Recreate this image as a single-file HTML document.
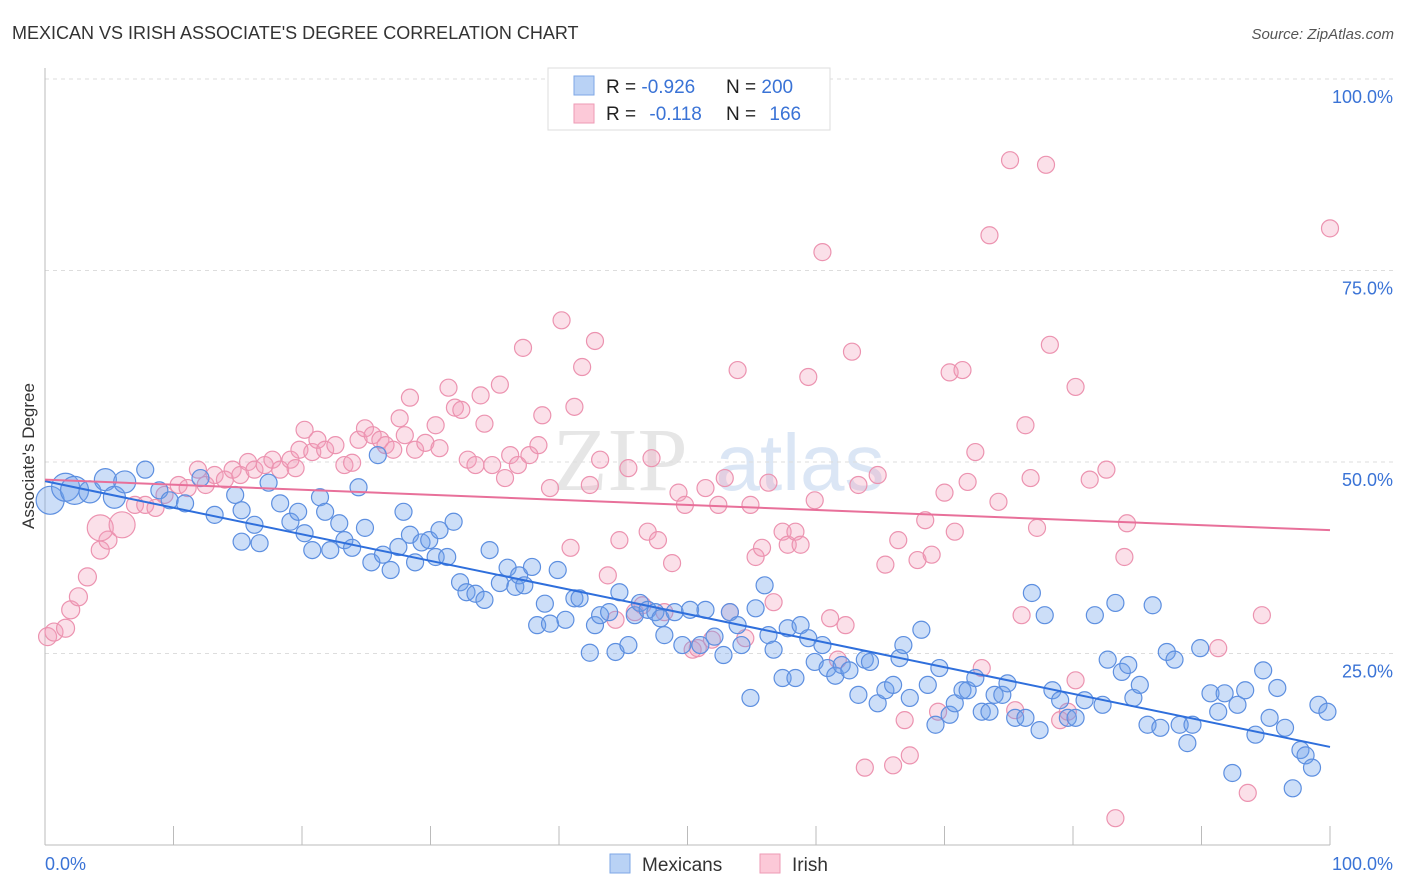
<!DOCTYPE html>
<html><head><meta charset="utf-8">
<style>
body{margin:0;background:#fff;font-family:"Liberation Sans",sans-serif;}
svg{display:block}
</style></head>
<body>
<svg id="chart" width="1406" height="892" xmlns="http://www.w3.org/2000/svg">
<text x="12" y="39" font-size="18" fill="#333">MEXICAN VS IRISH ASSOCIATE'S DEGREE CORRELATION CHART</text>
<text x="1394" y="39" font-size="15" fill="#555" font-style="italic" text-anchor="end">Source: ZipAtlas.com</text>
<text transform="translate(34,456) rotate(-90)" font-size="17" fill="#333" text-anchor="middle">Associate's Degree</text>
<text x="620" y="490" font-size="90" fill="#e6e6e6" font-family="Liberation Serif" text-anchor="middle">ZIP</text>
<text x="800" y="490" font-size="80" fill="#dbe6f5" text-anchor="middle">atlas</text>
<g id="grid"></g>
<g id="axes"></g>
<g id="pts"></g>
<g id="lines"></g>
<g>
<rect x="548" y="68" width="282" height="62" fill="#fff" stroke="#ddd"/>
<rect x="574" y="76" width="20" height="19" fill="#b9d2f5" stroke="#7ea7e6"/>
<rect x="574" y="104" width="20" height="19" fill="#fcc9d8" stroke="#ee9ab5"/>
<text x="606" y="93" font-size="19" fill="#222">R = <tspan fill="#3a73d6">-0.926</tspan></text>
<text x="726" y="93" font-size="19" fill="#222">N = <tspan fill="#3a73d6">200</tspan></text>
<text x="606" y="120" font-size="19" fill="#222">R = <tspan fill="#3a73d6" dx="8">-0.118</tspan></text>
<text x="726" y="120" font-size="19" fill="#222">N = <tspan fill="#3a73d6" dx="8">166</tspan></text>
</g>
<g>
<rect x="610" y="854" width="20" height="19" fill="#b9d2f5" stroke="#7ea7e6"/>
<text x="642" y="871" font-size="19" fill="#333">Mexicans</text>
<rect x="760" y="854" width="20" height="19" fill="#fcc9d8" stroke="#ee9ab5"/>
<text x="792" y="871" font-size="19" fill="#333">Irish</text>
</g>
</svg>
<script>
const blueX=[0.4,1.6,2.3,3.5,4.7,5.4,6.2,7.8,8.9,9.7,10.9,12.1,13.2,14.8,15.3,16.3,15.3,16.7,17.4,18.3,19.1,19.7,20.2,20.8,21.4,22.2,21.8,22.9,23.3,23.9,24.4,24.9,25.4,25.9,26.3,26.9,27.5,27.9,28.4,28.8,29.3,29.9,30.4,30.7,31.3,31.8,32.3,32.8,33.5,34.2,34.6,35.4,36.0,36.6,36.9,37.3,37.9,38.3,38.9,39.3,39.9,40.5,41.2,41.6,42.4,42.8,43.2,43.9,44.4,44.7,45.4,45.9,46.3,46.9,47.5,47.9,48.2,49.0,49.6,50.2,51.0,51.4,52.1,52.8,53.3,53.9,54.2,54.9,55.3,56.0,56.3,56.7,57.4,57.8,58.4,58.8,59.4,59.9,60.5,60.9,61.5,62.0,62.6,63.3,63.8,64.2,64.8,65.4,66.0,66.5,66.8,67.3,68.2,68.7,69.3,69.6,70.4,70.8,71.4,71.8,72.4,72.9,73.5,73.9,74.5,74.9,75.5,76.3,76.8,77.4,77.8,78.4,79.0,79.6,80.2,80.9,81.7,82.3,82.7,83.3,83.8,84.3,84.7,85.2,85.8,86.2,86.8,87.3,87.9,88.3,88.9,89.3,89.9,90.7,91.3,91.8,92.4,92.8,93.4,94.2,94.8,95.3,95.9,96.5,97.1,97.7,98.1,98.6,99.1,99.8];
const blueY=[45.0,46.7,46.3,46.1,47.7,45.4,47.4,49.0,46.3,45.0,44.6,47.9,43.1,45.7,43.7,41.8,39.6,39.4,47.3,44.6,42.2,43.5,40.7,38.5,45.4,38.5,43.5,42.0,39.8,38.8,46.7,41.4,36.9,50.9,37.9,35.9,38.9,43.5,40.5,36.9,39.5,39.8,37.6,41.1,37.6,42.2,34.3,33.0,32.8,32.0,38.5,34.2,36.2,33.7,35.2,33.9,36.3,28.7,31.5,28.9,35.9,29.4,32.2,32.2,25.1,28.7,30.0,30.4,25.2,33.0,26.1,30.0,31.6,30.7,30.4,29.6,27.4,30.4,26.1,30.7,26.1,30.7,27.2,24.8,30.4,28.7,26.1,19.2,30.9,33.9,27.4,25.5,21.8,28.3,21.8,28.7,27.0,23.9,26.1,23.1,22.1,23.5,22.8,19.6,24.2,23.9,18.5,20.2,20.9,24.4,26.1,19.2,28.1,20.9,15.7,23.1,17.0,18.5,20.2,20.2,21.8,17.4,17.4,19.6,19.6,21.1,16.6,16.6,32.9,15.0,30.0,20.2,18.9,16.6,16.6,18.9,30.0,18.3,24.2,31.6,22.6,23.5,19.2,20.9,15.7,31.3,15.3,25.2,24.2,15.7,13.3,15.7,25.7,19.8,17.4,19.8,9.4,18.3,20.2,14.4,22.8,16.6,20.5,15.3,7.4,12.4,11.7,10.1,18.3,17.4];
const pinkX=[0.2,0.7,1.6,2.0,2.6,3.3,4.3,4.9,4.3,6.0,7.0,7.8,8.6,9.3,10.4,11.1,11.9,12.5,13.2,14.0,14.6,15.2,15.8,16.3,17.1,17.7,18.3,19.1,19.5,19.8,20.2,20.8,21.2,21.8,22.6,23.3,23.9,24.4,24.9,25.5,26.1,26.5,27.1,27.6,28.0,28.4,28.8,29.6,30.4,30.7,31.4,31.9,32.4,32.9,33.5,33.9,34.2,34.8,35.4,35.8,36.2,36.8,37.2,37.7,38.4,38.7,39.3,40.2,40.9,41.2,41.8,42.4,42.8,43.2,43.8,44.4,44.7,45.4,45.9,46.5,46.9,47.2,47.7,48.2,48.8,49.3,49.8,50.4,50.8,51.4,51.9,52.4,52.9,53.3,53.9,54.5,54.9,55.3,55.8,56.3,56.7,57.4,57.8,58.4,58.8,59.4,59.9,60.5,61.1,61.7,62.3,62.8,63.3,63.8,64.8,65.4,66.0,66.4,66.9,67.3,67.9,68.5,69.0,69.5,70.0,70.4,70.8,71.4,71.8,72.4,72.9,73.5,74.2,75.1,75.5,76.0,76.3,76.7,77.2,77.9,78.2,79.0,79.6,80.2,80.2,81.3,82.6,83.3,84.0,84.2,91.3,93.6,94.7,100];
const pinkY=[27.2,27.8,28.3,30.7,32.4,35.0,38.5,39.8,41.4,41.8,44.4,44.4,44.0,45.7,47.0,46.6,49.0,47.0,48.3,47.7,49.0,48.3,50.0,49.0,49.6,50.3,49.0,50.3,49.2,51.6,54.2,51.3,52.9,51.6,52.2,49.6,49.9,52.9,54.4,53.5,52.9,52.2,51.6,55.7,53.5,58.4,51.6,52.5,54.8,51.8,59.7,57.1,56.8,50.3,49.6,58.7,55.0,49.6,60.1,47.9,50.9,49.6,64.9,50.9,52.2,56.1,46.6,68.5,38.8,57.2,62.4,47.0,65.8,50.3,35.2,29.4,39.8,49.2,30.4,31.3,40.9,50.5,39.8,30.4,36.8,46.0,44.4,25.5,25.7,46.6,26.8,44.4,47.9,30.4,62.0,27.0,44.4,37.6,38.8,47.3,31.7,40.9,39.2,40.9,39.2,61.1,45.0,77.4,29.6,24.2,28.7,64.4,47.0,10.1,48.3,36.6,10.4,39.8,16.3,11.7,37.2,42.4,37.9,17.4,46.0,61.7,40.9,62.0,47.4,51.3,23.1,79.6,44.8,89.4,17.6,30.0,54.8,47.9,41.4,88.8,65.3,16.3,17.4,21.5,59.8,47.7,49.0,3.5,37.6,42.0,25.7,6.8,30.0,80.5];
const blueTrend=[47.5,12.8];
const pinkTrend=[47.7,41.1];
const yTicks=[25,50,75,100];
const yTickLabels=["25.0%","50.0%","75.0%","100.0%"];
const xTicks=[0,10,20,30,40,50,60,70,80,90,100];

const NS="http://www.w3.org/2000/svg";
const X0=45,X1=1330,Y0=845,Y100=79;
function sx(v){return X0+(X1-X0)*v/100;}
function sy(v){return Y0-(Y0-Y100)*v/100;}
function mk(tag,attrs,parent){const e=document.createElementNS(NS,tag);for(const k in attrs)e.setAttribute(k,attrs[k]);parent.appendChild(e);return e;}
const grid=document.getElementById('grid'),axes=document.getElementById('axes'),pts=document.getElementById('pts'),lines=document.getElementById('lines');
yTicks.forEach((t,i)=>{
  const l=mk('line',{x1:X0,x2:1394,y1:sy(t),y2:sy(t),stroke:'#ddd','stroke-dasharray':'4,4'},grid);
  
  
  const tx=mk('text',{x:1393,y:sy(t)+24,'font-size':18,fill:'#3a73d6','text-anchor':'end'},axes);
  tx.textContent=yTickLabels[i];
  
  
});
const xa=mk('line',{x1:X0,x2:X1,y1:Y0,y2:Y0,stroke:'#bbb'},axes);


const ya=mk('line',{x1:X0,x2:X0,y1:68,y2:Y0,stroke:'#bbb'},axes);


xTicks.forEach(t=>{
  const l=mk('line',{x1:sx(t),x2:sx(t),y1:826,y2:Y0,stroke:'#bbb'},axes);
  
  
});
const xl0=mk('text',{x:45,y:870,'font-size':18,fill:'#3a73d6'},axes);xl0.textContent='0.0%';


const xl1=mk('text',{x:1393,y:870,'font-size':18,fill:'#3a73d6','text-anchor':'end'},axes);xl1.textContent='100.0%';


pinkX.forEach((x,i)=>{
  const r=(i===8||i===9)?13:(i<8?9:8.5);
  const c=mk('circle',{cx:sx(x),cy:sy(pinkY[i]),r:r,fill:'rgba(244,160,188,0.32)',stroke:'#ec93b0','stroke-width':1.2},pts);
  
  
});
blueX.forEach((x,i)=>{
  const r=i<3?14:(i<7?11:8.5);
  const c=mk('circle',{cx:sx(x),cy:sy(blueY[i]),r:r,fill:'rgba(110,160,235,0.35)',stroke:'#5d8fe0','stroke-width':1.2},pts);
  
  
});
const bl=mk('line',{x1:sx(0),y1:sy(blueTrend[0]),x2:sx(100),y2:sy(blueTrend[1]),stroke:'#2f6fdc','stroke-width':2},lines);


const pl=mk('line',{x1:sx(0),y1:sy(pinkTrend[0]),x2:sx(100),y2:sy(pinkTrend[1]),stroke:'#e8709a','stroke-width':2},lines);


</script>
</body></html>
